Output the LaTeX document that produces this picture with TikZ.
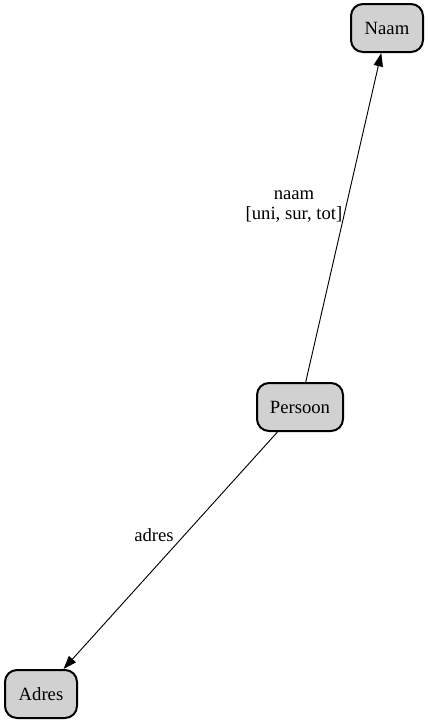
\documentclass[tikz,border=0pt]{standalone}
\usepackage{fontspec}
\setmainfont{Liberation Serif}
\usetikzlibrary{arrows.meta}
\tikzset{
  klasse/.style={draw, line width=1.5pt, rounded corners=9pt, fill=black!18,
    minimum width=54pt, minimum height=36pt, inner sep=0pt, font=\fontsize{14pt}{16pt}\selectfont},
  rel/.style={-{Triangle[length=10pt,width=7pt]}, line width=0.7pt},
  lbl/.style={font=\fontsize{14pt}{15pt}\selectfont, align=center, inner sep=0pt}
}
\begin{document}
\begin{tikzpicture}[x=0.75pt,y=-0.75pt]
    \useasboundingbox (0,0) rectangle (429,725);
    \node[klasse] (naam) at (387,28) {Naam};
    \node[klasse, minimum width=64.5pt] (persoon) at (300,407) {Persoon};
    \node[klasse] (adres) at (41,694) {Adres};
    \draw[rel] (persoon) -- (naam);
    \draw[rel] (persoon) -- (adres);
    \node[lbl] (lnaam) at (294,207) {naam\\{}[uni, sur, tot]};
    \node[lbl] (ladres) at (154,535) {adres};
  \end{tikzpicture}
\end{document}
